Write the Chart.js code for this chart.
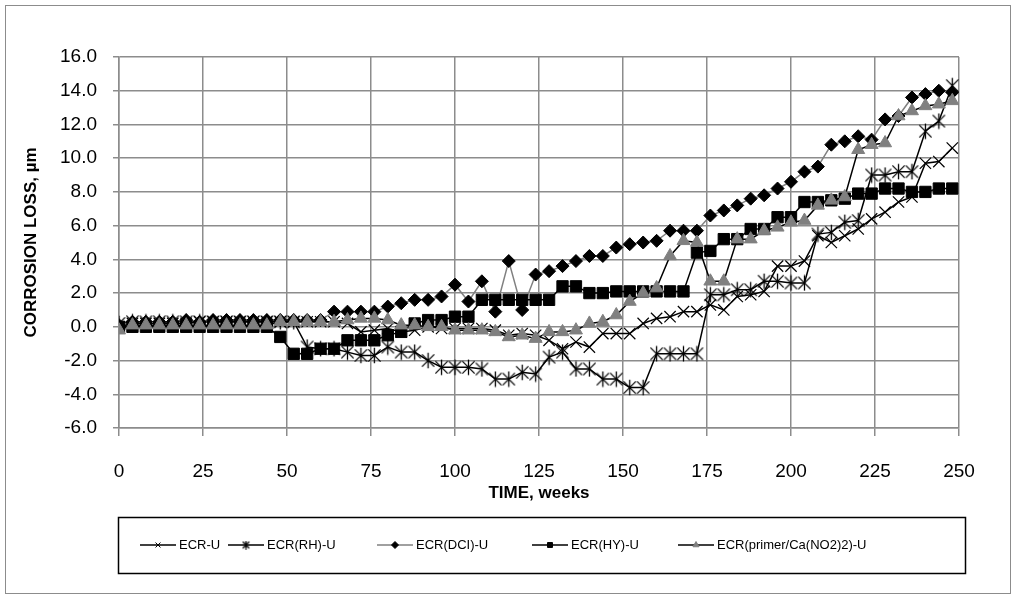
<!DOCTYPE html>
<html>
<head>
<meta charset="utf-8">
<script src="https://cdn.jsdelivr.net/npm/chart.js@4.4.1/dist/chart.umd.min.js"></script>
<style>
  html, body { margin: 0; padding: 0; background: #fff; }
  #wrap { position: relative; width: 1016px; height: 600px; }
</style>
</head>
<body>
<div id="wrap"><canvas id="corrosion" width="1016" height="600"></canvas></div>
<script>
const weeks = [0, 4, 8, 12, 16, 20, 24, 28, 32, 36, 40, 44, 48, 52, 56, 60, 64, 68, 72, 76, 80, 84, 88, 92, 96, 100,
  104, 108, 112, 116, 120, 124, 128, 132, 136, 140, 144, 148, 152, 156, 160, 164, 168, 172, 176, 180, 184, 188, 192,
  196, 200, 204, 208, 212, 216, 220, 224, 228, 232, 236, 240, 244, 248];

const ecrU = [0.0, 0.2, 0.2, 0.2, 0.2, 0.2, 0.3, 0.3, 0.3, 0.3, 0.3, 0.3, 0.3,
  0.3, 0.3, 0.3, 0.3, 0.2, -0.3, -0.2, -0.1, -0.3, -0.2, 0.0, -0.1, -0.1,
  -0.1, -0.1, -0.2, -0.5, -0.4, -0.5, -0.8, -1.3, -0.9, -1.2, -0.4, -0.4, -0.4,
  0.2, 0.5, 0.6, 0.9, 0.9, 1.3, 1.0, 1.8, 1.9, 2.1, 3.6, 3.6, 3.9,
  5.4, 5.0, 5.4, 5.8, 6.4, 6.8, 7.4, 7.7, 9.7, 9.8, 10.6];

const ecrRH = [0.2, 0.3, 0.3, 0.3, 0.3, 0.3, 0.3, 0.3, 0.3, 0.3, 0.3, 0.3, 0.3,
  0.3, -1.2, -1.3, -1.3, -1.5, -1.7, -1.7, -1.2, -1.5, -1.5, -2.0, -2.4, -2.4,
  -2.4, -2.5, -3.1, -3.1, -2.7, -2.8, -1.8, -1.5, -2.5, -2.5, -3.1, -3.1, -3.6,
  -3.6, -1.6, -1.6, -1.6, -1.6, 1.9, 1.9, 2.2, 2.2, 2.7, 2.7, 2.6, 2.6,
  5.5, 5.6, 6.2, 6.3, 9.0, 9.0, 9.2, 9.2, 11.6, 12.2, 14.3];

const ecrDCI = [0.1, 0.3, 0.3, 0.3, 0.3, 0.4, 0.3, 0.4, 0.4, 0.4, 0.4, 0.4, 0.4,
  0.4, 0.4, 0.4, 0.9, 0.9, 0.9, 0.9, 1.2, 1.4, 1.6, 1.6, 1.8, 2.5,
  1.5, 2.7, 0.9, 3.9, 1.0, 3.1, 3.3, 3.6, 3.9, 4.2, 4.2, 4.7, 4.9,
  5.0, 5.1, 5.7, 5.7, 5.7, 6.6, 6.9, 7.2, 7.6, 7.8, 8.2, 8.6, 9.2,
  9.5, 10.8, 11.0, 11.3, 11.1, 12.3, 12.5, 13.6, 13.8, 14.0, 13.9];

const ecrHY = [0.0, 0.0, 0.0, 0.0, 0.0, 0.0, 0.0, 0.0, 0.0, 0.0, 0.0, 0.0, -0.6,
  -1.6, -1.6, -1.3, -1.3, -0.8, -0.8, -0.8, -0.5, -0.3, 0.2, 0.4, 0.4, 0.6,
  0.6, 1.6, 1.6, 1.6, 1.6, 1.6, 1.6, 2.4, 2.4, 2.0, 2.0, 2.1, 2.1,
  2.1, 2.1, 2.1, 2.1, 4.4, 4.5, 5.2, 5.2, 5.8, 5.8, 6.5, 6.5, 7.4,
  7.4, 7.5, 7.6, 7.9, 7.9, 8.2, 8.2, 8.0, 8.0, 8.2, 8.2];

const ecrPrimer = [-0.2, 0.1, 0.1, 0.1, 0.1, 0.1, 0.1, 0.1, 0.1, 0.1, 0.1, 0.1, 0.3,
  0.3, 0.3, 0.3, 0.3, 0.4, 0.5, 0.5, 0.4, 0.1, 0.1, 0.0, 0.0, -0.2,
  -0.2, -0.2, -0.3, -0.6, -0.5, -0.7, -0.3, -0.3, -0.2, 0.2, 0.3, 0.7, 1.5,
  2.0, 2.3, 4.2, 5.1, 5.0, 2.7, 2.7, 5.2, 5.2, 5.7, 5.9, 6.2, 6.3,
  7.2, 7.5, 7.7, 10.5, 10.8, 10.9, 12.5, 12.8, 13.1, 13.2, 13.4];

const seriesNames = ['ECR-U', 'ECR(RH)-U', 'ECR(DCI)-U', 'ECR(HY)-U', 'ECR(primer/Ca(NO2)2)-U'];
const xTicks = [0, 25, 50, 75, 100, 125, 150, 175, 200, 225, 250];
const yTicks = [-6, -4, -2, 0, 2, 4, 6, 8, 10, 12, 14, 16];

const FONT = '"Liberation Sans", Arial, sans-serif';
const GRID = '#8c8c8c';

// Excel style "star" marker: an x with a vertical bar
function starMarker(size) {
  const c = document.createElement('canvas');
  c.width = size; c.height = size;
  const g = c.getContext('2d');
  const m = size / 2, a = size * 0.36, b = size * 0.46;
  g.strokeStyle = '#000';
  g.lineWidth = 1.3;
  g.beginPath();
  g.moveTo(m - a, m - a); g.lineTo(m + a, m + a);
  g.moveTo(m + a, m - a); g.lineTo(m - a, m + a);
  g.moveTo(m, m - b); g.lineTo(m, m + b);
  g.stroke();
  return c;
}

function toPoints(vals) {
  return weeks.map((w, i) => ({ x: w, y: vals[i] }));
}

const datasets = [
  { label: seriesNames[0], data: toPoints(ecrU), borderColor: '#000', borderWidth: 1.5,
    pointStyle: 'crossRot', pointRadius: 8, pointBorderColor: '#000', pointBorderWidth: 1.2,
    pointBackgroundColor: '#000', order: 5 },
  { label: seriesNames[1], data: toPoints(ecrRH), borderColor: '#000', borderWidth: 1.5,
    pointStyle: starMarker(17), legendStyle: starMarker(9), pointRadius: 8, order: 4 },
  { label: seriesNames[2], data: toPoints(ecrDCI), borderColor: '#808080', borderWidth: 1.5,
    pointStyle: 'rectRot', pointRadius: 6.5, pointBorderColor: '#000', pointBackgroundColor: '#000',
    pointBorderWidth: 1, order: 3 },
  { label: seriesNames[3], data: toPoints(ecrHY), borderColor: '#000', borderWidth: 1.5,
    pointStyle: 'rect', pointRadius: 8, pointBorderColor: '#000', pointBackgroundColor: '#000',
    pointBorderWidth: 1, order: 2 },
  { label: seriesNames[4], data: toPoints(ecrPrimer), borderColor: '#000', borderWidth: 1.5,
    pointStyle: 'triangle', pointRadius: 7.5, pointBorderColor: '#808080', pointBackgroundColor: '#808080',
    pointBorderWidth: 1, order: 1 }
];

// outer frame and boxed legend, Excel style
const frame = {
  id: 'frame',
  beforeDraw(chart) {
    const ctx = chart.ctx;
    ctx.save();
    ctx.fillStyle = '#fff';
    ctx.fillRect(0, 0, chart.width, chart.height);
    ctx.strokeStyle = '#8c8c8c';
    ctx.lineWidth = 1;
    ctx.strokeRect(5.5, 5.5, 1005, 588);
    ctx.restore();
  },
  afterDraw(chart) {
    const ctx = chart.ctx;
    const items = [140, 228, 377, 532, 678];
    const y = 545;
    ctx.save();
    ctx.strokeStyle = '#000';
    ctx.lineWidth = 1.5;
    ctx.strokeRect(118.5, 517.5, 847, 56);
    ctx.font = '13px ' + FONT;
    ctx.textBaseline = 'middle';
    chart.data.datasets.forEach((ds, i) => {
      const x0 = items[i];
      ctx.strokeStyle = ds.borderColor;
      ctx.lineWidth = 1.5;
      ctx.beginPath();
      ctx.moveTo(x0, y); ctx.lineTo(x0 + 36, y);
      ctx.stroke();
      ctx.fillStyle = ds.pointBackgroundColor || '#000';
      ctx.strokeStyle = ds.pointBorderColor || '#000';
      ctx.lineWidth = 1;
      const style = ds.legendStyle || ds.pointStyle;
      Chart.helpers.drawPoint(ctx, { pointStyle: style, radius: 3.5, rotation: 0, borderWidth: 1 }, x0 + 18, y);
      ctx.fillStyle = '#000';
      ctx.fillText(ds.label, x0 + 39, y);
    });
    ctx.restore();
  }
};

new Chart(document.getElementById('corrosion'), {
  type: 'line',
  data: { datasets: datasets },
  plugins: [frame],
  options: {
    responsive: false,
    animation: false,
    layout: { padding: { left: 5, top: 57, right: 57, bottom: 90 } },
    plugins: { legend: { display: false }, tooltip: { enabled: false } },
    scales: {
      x: {
        type: 'linear',
        min: 0,
        max: 250,
        afterBuildTicks: scale => { scale.ticks = xTicks.map(v => ({ value: v })); },
        afterFit: scale => { scale.height = 82; },
        grid: { color: GRID, lineWidth: 1.5, tickLength: 8 },
        border: { color: GRID, width: 1.5 },
        ticks: { color: '#000', padding: 24, maxRotation: 0, font: { family: FONT, size: 19 } },
        title: { display: true, text: 'TIME, weeks', color: '#000', padding: { top: 0, bottom: 6 },
          font: { family: FONT, size: 17, weight: 'bold' } }
      },
      y: {
        min: -6,
        max: 16,
        afterBuildTicks: scale => { scale.ticks = yTicks.map(v => ({ value: v })); },
        afterFit: scale => { scale.width = 114; },
        grid: { color: GRID, lineWidth: 1.5, tickLength: 6 },
        border: { color: GRID, width: 1.5 },
        ticks: { color: '#000', padding: 16, font: { family: FONT, size: 19 },
          callback: v => v.toFixed(1) },
        title: { display: true, text: 'CORROSION LOSS, µm', color: '#000', padding: { top: 16, bottom: 0 },
          font: { family: FONT, size: 17, weight: 'bold' } }
      }
    }
  }
});
</script>
</body>
</html>
